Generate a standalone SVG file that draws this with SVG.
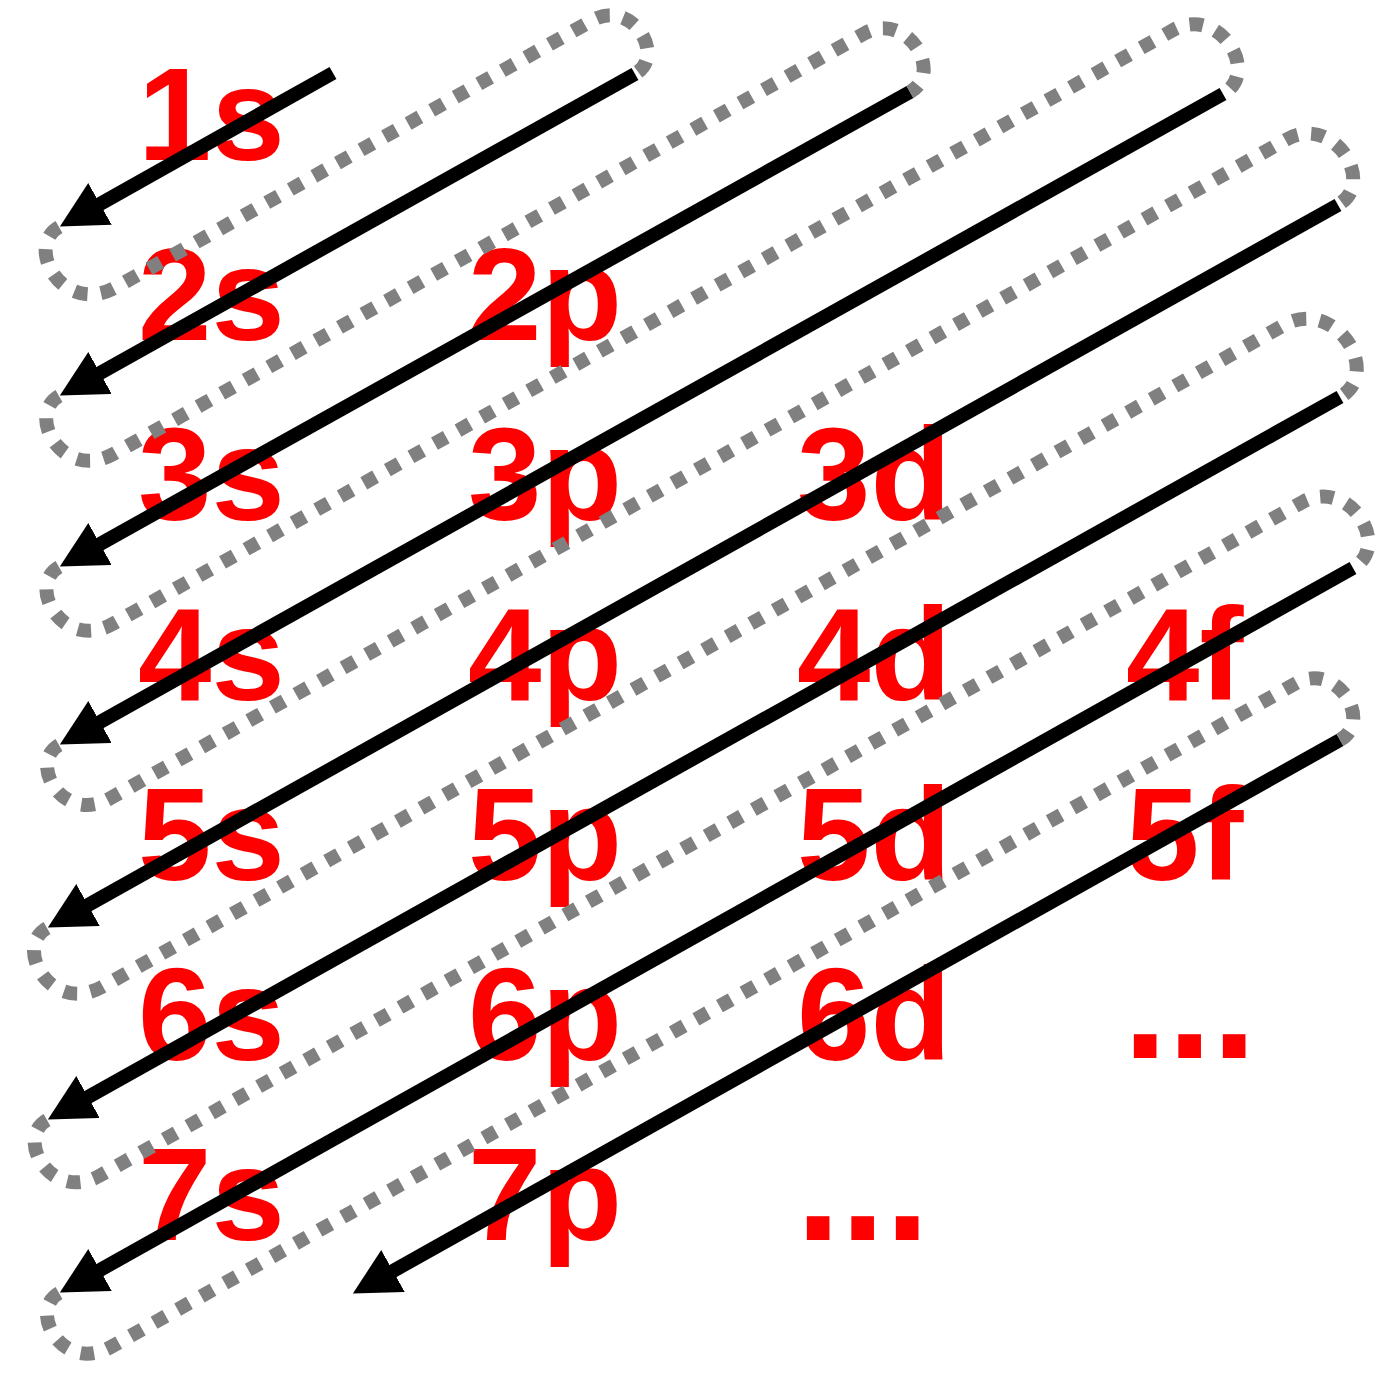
<svg xmlns="http://www.w3.org/2000/svg" width="1384" height="1375" viewBox="0 0 1384 1375">
<style>
.lbl{font-family:"Liberation Sans",Arial,Helvetica,sans-serif;font-weight:bold;font-size:132px;fill:#ff0000}
.more{font-size:160px}
.arr{stroke:#000;stroke-width:14;fill:none;stroke-linecap:butt;marker-end:url(#head)}
.dot{stroke:#808080;stroke-width:14;fill:none;stroke-dasharray:13.5 13.5;stroke-linecap:butt}
</style>
<defs>
<marker id="head" markerUnits="userSpaceOnUse" viewBox="0 0 46 48" markerWidth="46" markerHeight="48" refX="14" refY="24" orient="auto">
<path d="M0,0 L46,24 L0,48 Z" fill="#000"/>
</marker>
</defs>
<rect width="1384" height="1375" fill="#fff"/>
<g id="nodes">
<g id="n1s"><text class="lbl" x="138" y="160">1s</text></g>
<g id="n2s"><text class="lbl" x="138" y="340">2s</text></g>
<g id="n2p"><text class="lbl" x="468" y="340">2p</text></g>
<g id="n3s"><text class="lbl" x="138" y="520">3s</text></g>
<g id="n3p"><text class="lbl" x="468" y="520">3p</text></g>
<g id="n3d"><text class="lbl" x="797" y="520">3d</text></g>
<g id="n4s"><text class="lbl" x="138" y="700">4s</text></g>
<g id="n4p"><text class="lbl" x="468" y="700">4p</text></g>
<g id="n4d"><text class="lbl" x="797" y="700">4d</text></g>
<g id="n4f"><text class="lbl" x="1126" y="700">4f</text></g>
<g id="n5s"><text class="lbl" x="138" y="880">5s</text></g>
<g id="n5p"><text class="lbl" x="468" y="880">5p</text></g>
<g id="n5d"><text class="lbl" x="797" y="880">5d</text></g>
<g id="n5f"><text class="lbl" x="1126" y="880">5f</text></g>
<g id="n6s"><text class="lbl" x="138" y="1060">6s</text></g>
<g id="n6p"><text class="lbl" x="468" y="1060">6p</text></g>
<g id="n6d"><text class="lbl" x="797" y="1060">6d</text></g>
<g id="n6more"><text class="lbl more" x="1123" y="1058">...</text></g>
<g id="n7s"><text class="lbl" x="138" y="1240">7s</text></g>
<g id="n7p"><text class="lbl" x="468" y="1240">7p</text></g>
<g id="n7more"><text class="lbl more" x="796" y="1240">...</text></g>
</g>
<g id="connectors">
<line class="arr" x1="333" y1="73" x2="87.8" y2="210.8"/>
<line class="arr" x1="635" y1="74" x2="87.8" y2="379.8"/>
<line class="arr" x1="910" y1="92" x2="87.8" y2="550.8"/>
<line class="arr" x1="1223" y1="94" x2="87.8" y2="728.8"/>
<line class="arr" x1="1338" y1="205" x2="75.8" y2="911.8"/>
<line class="arr" x1="1340" y1="397" x2="75.8" y2="1103.8"/>
<line class="arr" x1="1353" y1="568" x2="87.8" y2="1276.8"/>
<line class="arr" x1="1340" y1="740" x2="380.8" y2="1277.8"/>
<path class="dot" transform="translate(59,227) rotate(-29.25)" d="M0,0 C-40.2,0 -40.2,80.3 20.1,80.3 L567.2,80.3 C611.1,80.3 614.5,147.9 577.3,147.9"/>
<path class="dot" transform="translate(59,396) rotate(-29.25)" d="M0,0 C-38.6,0 -38.6,77.2 19.3,77.2 L880,77.2 C927.7,77.2 931.4,150.6 891,150.6"/>
<path class="dot" transform="translate(59,567) rotate(-29.25)" d="M0,0 C-38,0 -38,75.9 19,75.9 L1234.7,75.9 C1286.8,75.9 1290.8,156 1246.7,156"/>
<path class="dot" transform="translate(59,745) rotate(-29.25)" d="M0,0 C-35.8,0 -35.8,71.5 17.9,71.5 L1367.4,71.5 C1420.8,71.5 1424.9,153.7 1379.7,153.7"/>
<path class="dot" transform="translate(47,928) rotate(-29.25)" d="M0,0 C-39.2,0 -39.2,78.3 19.6,78.3 L1374,78.3 C1432.6,78.3 1437.1,168.5 1387.5,168.5"/>
<path class="dot" transform="translate(47,1120) rotate(-29.25)" d="M0,0 C-37.2,0 -37.2,74.3 18.6,74.3 L1396.9,74.3 C1450.3,74.3 1454.4,156.5 1409.2,156.5"/>
<path class="dot" transform="translate(59,1293) rotate(-29.25)" d="M0,0 C-36.2,0 -36.2,72.4 18.1,72.4 L1377.2,72.4 C1423.4,72.4 1427,143.4 1387.9,143.4"/>
</g>
</svg>
